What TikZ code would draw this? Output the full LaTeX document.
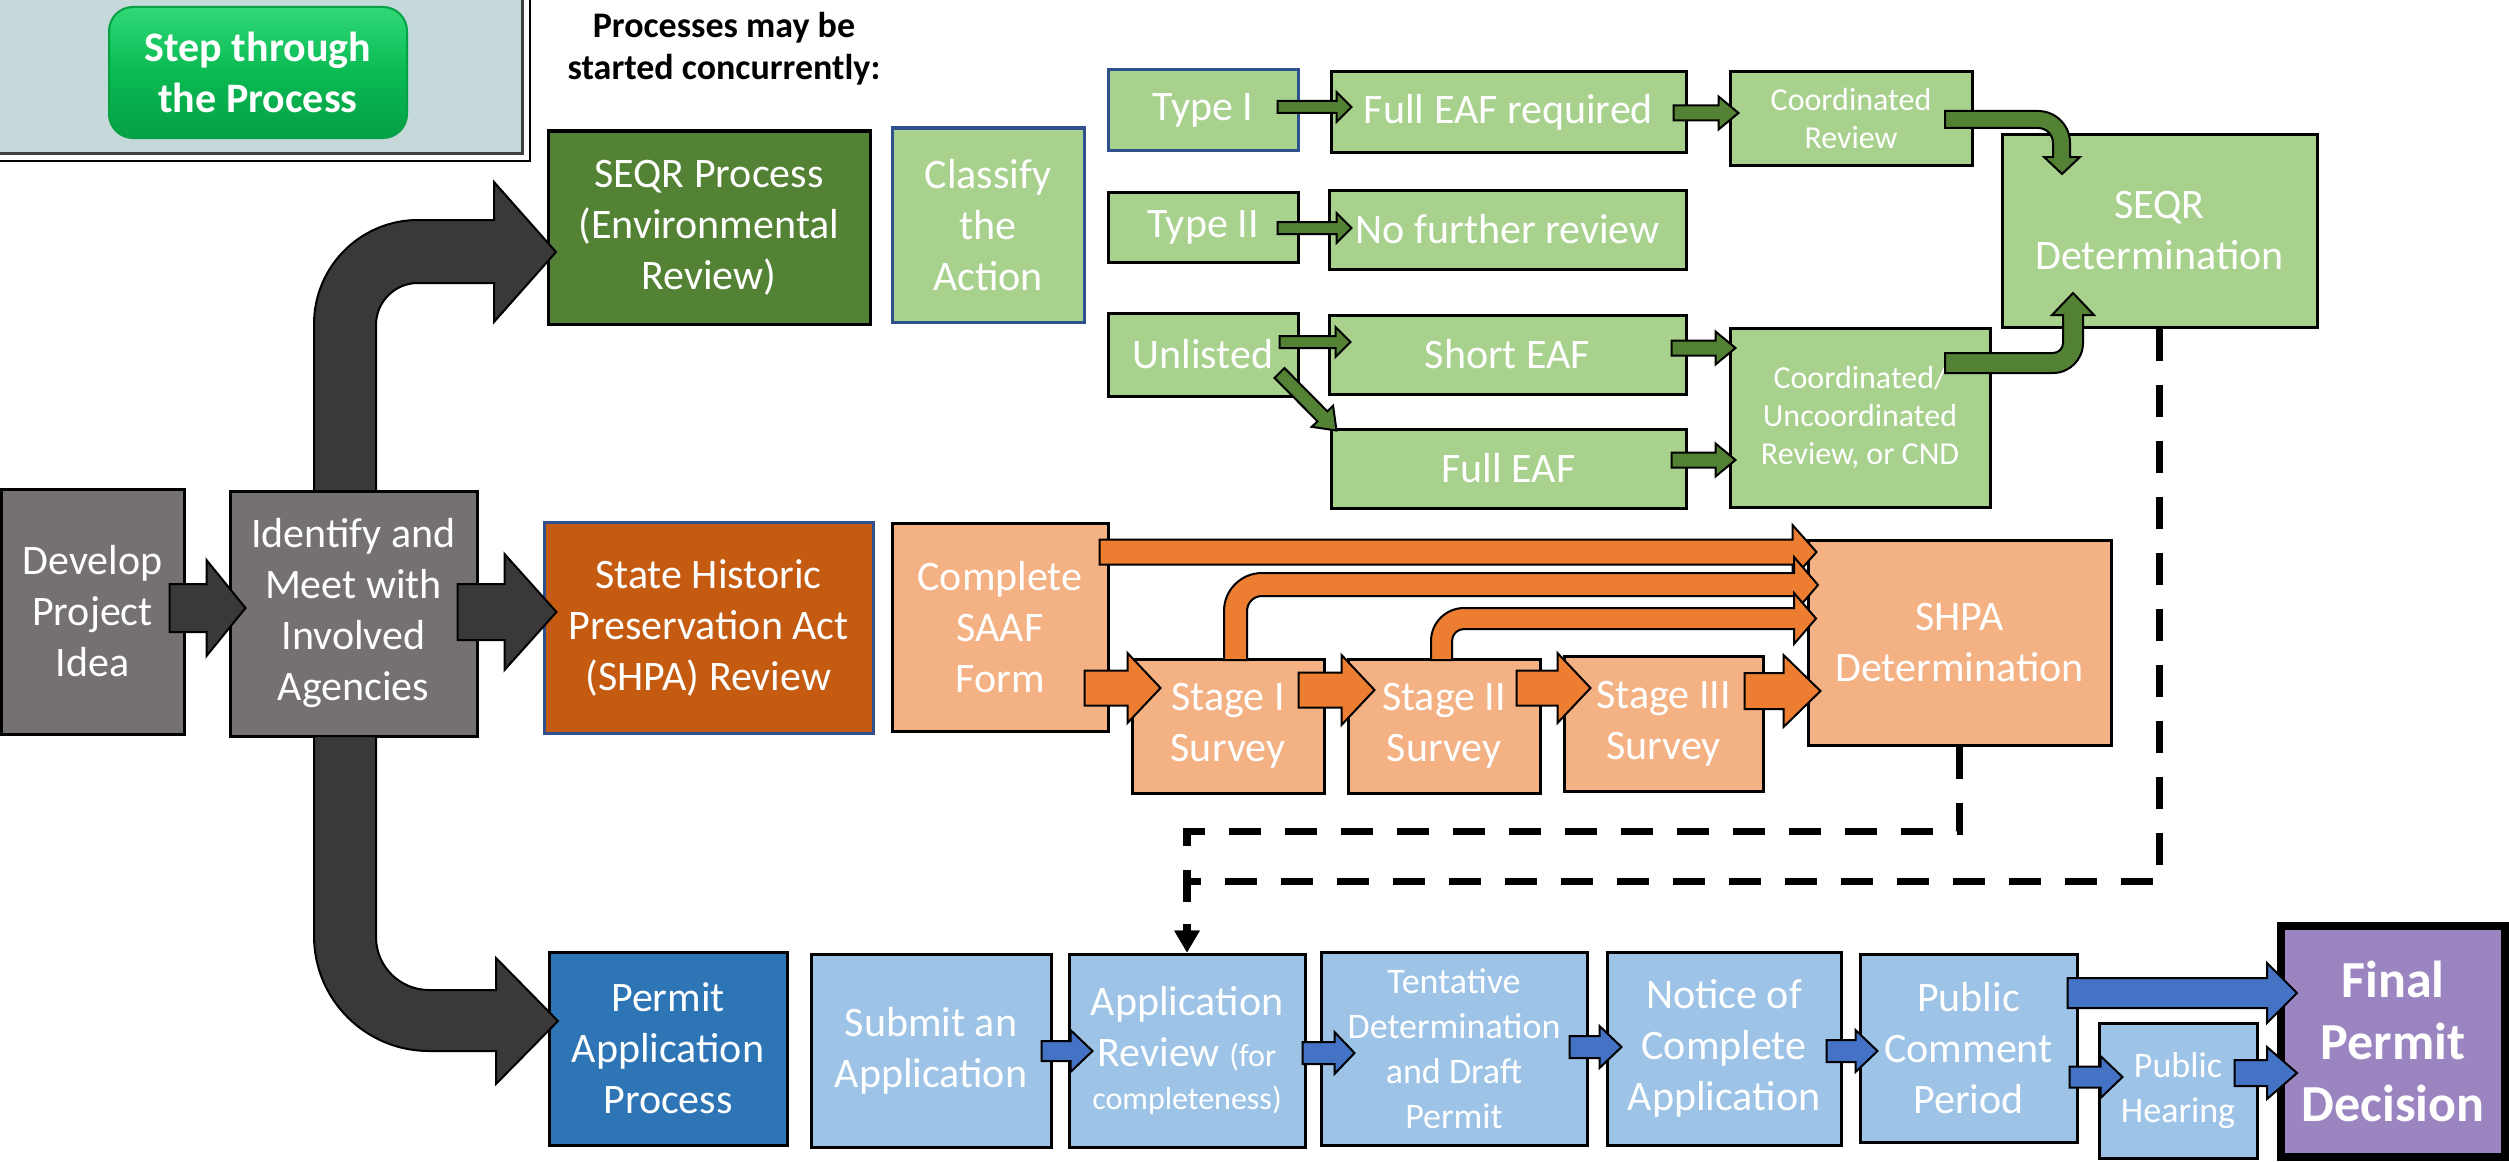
\documentclass[tikz,border=0pt]{standalone}
\usepackage{fontspec}
\setmainfont{Carlito}
\usetikzlibrary{calc,arrows.meta}
\definecolor{grayBox}{HTML}{767171}
\definecolor{darkArrow}{HTML}{3A3838}
\definecolor{seqrDark}{HTML}{548235}
\definecolor{lgreen}{HTML}{A9D18E}
\definecolor{shpaDark}{HTML}{C55A11}
\definecolor{lorange}{HTML}{F4B183}
\definecolor{orangeArrow}{HTML}{ED7D31}
\definecolor{permDark}{HTML}{2E75B6}
\definecolor{lblue}{HTML}{9DC3E6}
\definecolor{blueArrow}{HTML}{4472C4}
\definecolor{purpleF}{HTML}{9B85C1}
\definecolor{bordBlue}{HTML}{2F528F}
\definecolor{contFill}{HTML}{C5D9DB}
\definecolor{borderGray}{HTML}{404040}
\definecolor{btnTop}{HTML}{2FD977}
\definecolor{btnMid}{HTML}{0ABA52}
\definecolor{btnBot}{HTML}{06A045}
\newcommand\fsA{\fontsize{21}{25.5}\selectfont}
\newcommand\fsB{\fontsize{16}{19}\selectfont}
\newcommand\fsC{\fontsize{18}{22.5}\selectfont}
\newcommand\fsD{\bfseries\fontsize{26}{31}\selectfont}
\newcommand\fsN{\bfseries\fontsize{18}{21}\selectfont}
\tikzset{
  wh/.style 2 args={minimum width={#1*0.5pt},minimum height={#2*0.5pt}},
  box/.style={draw=black,line width=1.5pt,text=white,align=center,inner sep=0pt,font=\fsA},
  bluebd/.style={draw=bordBlue},
  graybox/.style={box,fill=grayBox},
  seqrbox/.style={box,fill=seqrDark},
  lgbox/.style={box,fill=lgreen},
  shpabox/.style={box,fill=shpaDark},
  lobox/.style={box,fill=lorange},
  permbox/.style={box,fill=permDark},
  lbbox/.style={box,fill=lblue},
  darr/.style={fill=darkArrow,draw=black,line width=1pt},
  garr/.style={fill=seqrDark,draw=black,line width=1pt},
  oarr/.style={fill=orangeArrow,draw=black,line width=1pt},
  barr/.style={fill=blueArrow,draw=black,line width=1pt},
  dline/.style={line width=3.6pt,dash pattern=on 16pt off 12pt,-{Triangle[width=12pt,length=11pt]}}
}
% block arrow: style, from, tip, shaft half, head half, head length (pt)
\newcommand\blk[6]{%
  \coordinate (bk-a) at #2;
  \coordinate (bk-b) at #3;
  \coordinate (bk-h) at ($(bk-b)!#6!(bk-a)$);
  \path[#1] ($(bk-a)!#4!90:(bk-b)$) -- ($(bk-h)!#4!90:(bk-b)$) -- ($(bk-h)!#5!90:(bk-b)$)
    -- (bk-b) -- ($(bk-h)!#5!-90:(bk-b)$) -- ($(bk-h)!#4!-90:(bk-b)$)
    -- ($(bk-a)!#4!-90:(bk-b)$) -- cycle;}
\begin{document}
\begin{tikzpicture}[x=0.5pt,y=-0.5pt]
\useasboundingbox (0,0) rectangle (2509,1161);

% ---------- header ----------
\node[fill=contFill,draw=borderGray,line width=1.5pt,wh={531}{162},anchor=north west,inner sep=0pt] (cont) at (-10,-10) {};
\draw[black,line width=1.2pt] ($(cont.north west)+(-6,-6)$) rectangle ($(cont.south east)+(6,6)$);
\node[rounded corners=12pt,wh={298}{131},top color=btnTop,bottom color=btnBot,middle color=btnMid,
      draw=btnBot,line width=1pt,text=white,font=\fsA\bfseries,align=center,inner sep=0pt] (button) at (258,72.5) {Step through\\the Process};
\node[font=\fsN,align=center] (note) at (724,49) {Processes may be\\started concurrently:};

% ---------- boxes ----------
\node[graybox,wh={183}{245}] (dev) at (92.5,611.5) {Develop\\Project\\Idea};
\node[graybox,wh={247}{245}] (ident) at (353.5,613.5) {Identify and\\Meet with\\Involved\\Agencies};

\node[seqrbox,wh={322}{193}] (seqrp) at (709,227.5) {SEQR Process\\(Environmental\\Review)};
\node[lgbox,bluebd,wh={192}{194}] (classify) at (988,225) {Classify\\the\\Action};
\node[lgbox,bluebd,wh={190}{80}] (typeI) at (1203,110) {Type I};
\node[lgbox,wh={355}{80}] (fullreq) at (1508.5,112) {Full EAF required};
\node[lgbox,wh={242}{93},font=\fsB] (coordrev) at (1851,118.5) {Coordinated\\Review};
\node[lgbox,wh={315}{193}] (seqrdet) at (2159.5,230.5) {SEQR\\Determination};
\node[lgbox,wh={190}{70}] (typeII) at (1203,227) {Type II};
\node[lgbox,wh={357}{79}] (nofurther) at (1507.5,229.5) {No further review};
\node[lgbox,wh={190}{83}] (unlisted) at (1203,354.5) {Unlisted};
\node[lgbox,wh={357}{79}] (shorteaf) at (1507.5,354.5) {Short EAF};
\node[lgbox,wh={355}{79}] (fulleaf) at (1508.5,468.5) {Full EAF};
\node[lgbox,wh={260}{179},font=\fsB] (coordun) at (1860,417.5) {Coordinated/\\Uncoordinated\\Review, or CND};

\node[shpabox,bluebd,wh={329}{211}] (shparev) at (708.5,627.5) {State Historic\\Preservation Act\\(SHPA) Review};
\node[lobox,wh={216}{208}] (saaf) at (1000,627) {Complete\\SAAF\\Form};
\node[lobox,wh={192}{134}] (stageA) at (1228,726) {Stage I\\Survey};
\node[lobox,wh={192}{134}] (stageB) at (1444,726) {Stage II\\Survey};
\node[lobox,wh={199}{135}] (stageC) at (1663.5,723.5) {Stage III\\Survey};
\node[lobox,wh={303}{205}] (shpadet) at (1959.5,642.5) {SHPA\\Determination};

\node[permbox,wh={238}{193}] (permitp) at (668,1048.5) {Permit\\Application\\Process};
\node[lbbox,wh={240}{193}] (submit) at (931,1050.5) {Submit an\\Application};
\node[lbbox,wh={236}{193}] (apprev) at (1187,1050.5) {Application\\Review {\fsB(for}\\[-4pt]{\fsB completeness)}};
\node[lbbox,wh={266}{193},font=\fsC] (tent) at (1454,1048.5) {Tentative\\Determination\\and Draft\\Permit};
\node[lbbox,wh={234}{193}] (notice) at (1724,1048.5) {Notice of\\Complete\\Application};
\node[lbbox,wh={217}{188}] (pubcom) at (1968.5,1048) {Public\\Comment\\Period};
\node[lbbox,wh={158}{135},font=\fsC] (hearing) at (2178,1090.5) {Public\\Hearing};
\node[box,fill=purpleF,line width=4pt,wh={224}{231},font=\fsD] (final) at (2393,1041.5) {Final\\Permit\\Decision};

% ---------- dashed feedback lines ----------
\draw[dline] (seqrdet.south) |- ($(apprev.north)+(0,-71)$) -- (apprev.north);
\draw[dline] (shpadet.south) |- ($(apprev.north)+(0,-121)$) -- (apprev.north);

% ---------- dark arrows ----------
\path[darr] (314,491) -- (314,324) arc[start angle=180,end angle=270,radius=104] -- (494,220) -- (494,182)
  -- (556,252) -- (494,322) -- (494,283) -- (418,283) arc[start angle=270,end angle=180,radius=42] -- (376,491) -- cycle;
\path[darr] (314,736) -- (314,936) arc[start angle=180,end angle=90,radius=115] -- (496,1051) -- (496,1084)
  -- (558,1021) -- (496,958) -- (496,990) -- (429,990) arc[start angle=90,end angle=180,radius=53] -- (376,736) -- cycle;
\blk{darr}{($(dev.east)+(-16,-3.5)$)}{($(ident.west)+(17,-5.5)$)}{12pt}{24pt}{19.5pt}
\blk{darr}{($(ident.east)+(-21,-1.5)$)}{($(shparev.west)+(14,-15.5)$)}{14pt}{29pt}{26pt}

% ---------- green arrows ----------
\blk{garr}{($(typeI.east)+(-22,-3)$)}{($(fullreq.west)+(22,-5)$)}{3pt}{7.5pt}{7.5pt}
\blk{garr}{($(fullreq.east)+(-14,1)$)}{($(coordrev.west)+(10,-5.5)$)}{3.75pt}{8.25pt}{10pt}
\blk{garr}{($(typeII.east)+(-22,1)$)}{($(nofurther.west)+(24,-1.5)$)}{3pt}{7.5pt}{7.5pt}
\blk{garr}{($(unlisted.east)+(-20,-12.5)$)}{($(shorteaf.west)+(23,-12.5)$)}{3pt}{7.5pt}{7.5pt}
\blk{garr}{($(unlisted.east)+(-20,18.5)$)}{($(fulleaf.north west)+(7,3)$)}{3.5pt}{7.5pt}{10pt}
\blk{garr}{($(shorteaf.east)+(-16,-6.5)$)}{($(coordun.west)+(7,-69.5)$)}{3.75pt}{8.25pt}{10pt}
\blk{garr}{($(fulleaf.east)+(-16,-8.5)$)}{($(coordun.west)+(7,42.5)$)}{3.75pt}{8.25pt}{10pt}
\path[garr] (1945,111) -- (2038,111) arc[start angle=270,end angle=360,radius=32] -- (2070,157) -- (2080,157)
  -- (2062,174) -- (2044,157) -- (2053,157) -- (2053,143) arc[start angle=0,end angle=-90,radius=15] -- (1945,128) -- cycle;
\path[garr] (1945,353) -- (2053,353) arc[start angle=90,end angle=0,radius=10] -- (2063,315) -- (2052,315)
  -- (2073,293) -- (2094,315) -- (2083,315) -- (2083,343) arc[start angle=0,end angle=90,radius=30] -- (1945,373) -- cycle;

% ---------- orange arrows ----------
\blk{oarr}{($(saaf.east)+(-10,-75)$)}{($(shpadet.west)+(10,-90.5)$)}{6.25pt}{13.5pt}{12pt}
\path[oarr] (1224,660) -- (1224,611) arc[start angle=180,end angle=270,radius=38] -- (1794,573) -- (1794,557)
  -- (1818,585) -- (1794,613) -- (1794,596) -- (1262,596) arc[start angle=270,end angle=180,radius=15] -- (1247,660) -- cycle;
\path[oarr] (1431,660) -- (1431,641) arc[start angle=180,end angle=270,radius=33] -- (1794,608) -- (1794,593)
  -- (1816,618.5) -- (1794,644) -- (1794,629) -- (1464,629) arc[start angle=270,end angle=180,radius=12] -- (1452,660) -- cycle;
\blk{oarr}{($(saaf.east)+(-25,61)$)}{($(stageA.west)+(30,-38)$)}{8.75pt}{17.5pt}{16.5pt}
\blk{oarr}{($(stageA.east)+(-27,-36)$)}{($(stageB.west)+(28,-36)$)}{8.75pt}{17.5pt}{16.5pt}
\blk{oarr}{($(stageB.east)+(-25,-38)$)}{($(stageC.west)+(28,-35.5)$)}{8.75pt}{17.5pt}{16.5pt}
\blk{oarr}{($(stageC.east)+(-20,-32.5)$)}{($(shpadet.west)+(14,48.5)$)}{9pt}{18pt}{18.5pt}

% ---------- blue arrows ----------
\blk{barr}{($(submit.east)+(-11,0.5)$)}{($(apprev.west)+(25,0.5)$)}{5pt}{10.5pt}{11pt}
\blk{barr}{($(apprev.east)+(-4,2.5)$)}{($(tent.west)+(35,4.5)$)}{5.5pt}{10.5pt}{10pt}
\blk{barr}{($(tent.east)+(-19,-1.5)$)}{($(notice.west)+(16,-1.5)$)}{5.5pt}{10.5pt}{11pt}
\blk{barr}{($(notice.east)+(-16,2.5)$)}{($(pubcom.west)+(19,3)$)}{5.5pt}{10.5pt}{11pt}
\blk{barr}{($(pubcom.east)+(-11,-55)$)}{($(final.west)+(20,-48.5)$)}{7.5pt}{15pt}{15pt}
\blk{barr}{($(pubcom.east)+(-9,29)$)}{($(hearing.west)+(25,-13.5)$)}{5.25pt}{10.5pt}{11pt}
\blk{barr}{($(hearing.east)+(-24,-17.5)$)}{($(final.west)+(20,31.5)$)}{6.5pt}{13pt}{15pt}
\end{tikzpicture}
\end{document}
